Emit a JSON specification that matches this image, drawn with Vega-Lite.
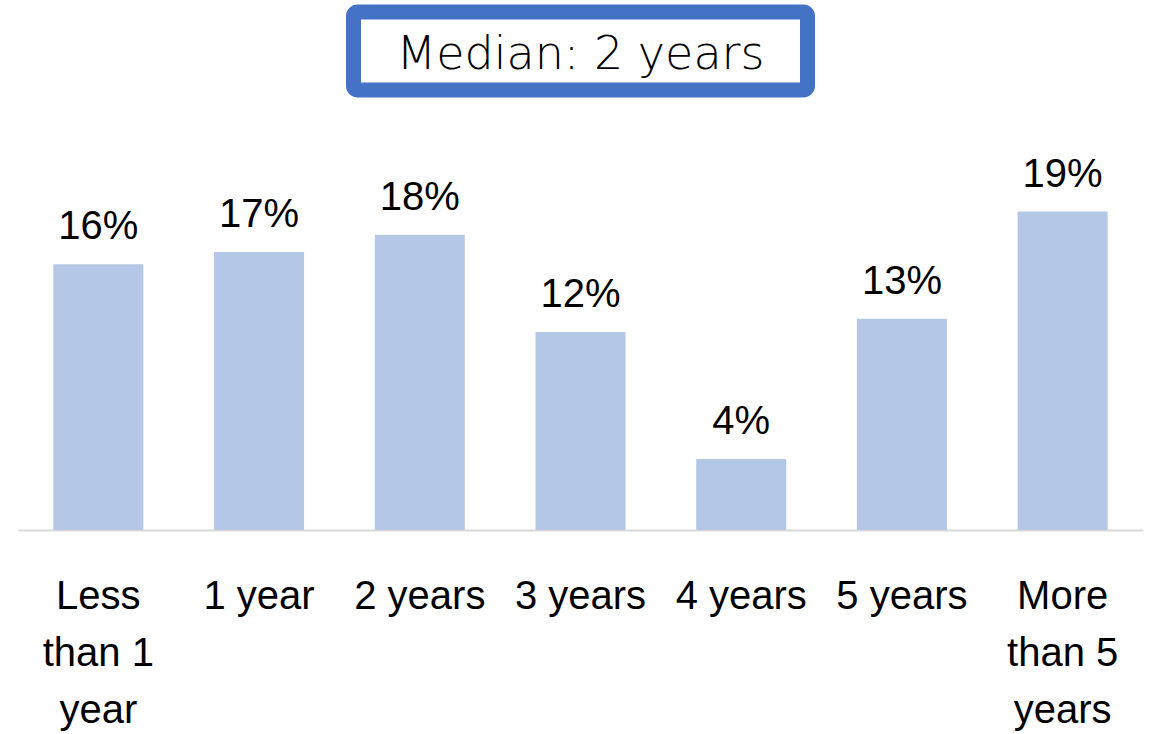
{
  "$schema": "https://vega.github.io/schema/vega-lite/v6.json",
  "autosize": {"type": "none"},
  "padding": {"left": 18, "top": 0, "right": 12, "bottom": 204},
  "width": 1125,
  "height": 530,
  "background": "white",
  "config": {"view": {"stroke": null}},
  "datasets": {
    "bars": [
      {"category": "Less than 1 year", "pct": 16.1, "label": "16%"},
      {"category": "1 year", "pct": 16.85, "label": "17%"},
      {"category": "2 years", "pct": 17.9, "label": "18%"},
      {"category": "3 years", "pct": 12.0, "label": "12%"},
      {"category": "4 years", "pct": 4.3, "label": "4%"},
      {"category": "5 years", "pct": 12.8, "label": "13%"},
      {"category": "More than 5 years", "pct": 19.3, "label": "19%"}
    ],
    "box": [
      {"top": 31.39, "bottom": 26.67, "mid": 28.8, "cat": "3 years", "text": "Median: 2 years"}
    ]
  },
  "layer": [
    {
      "data": {"name": "bars"},
      "mark": {"type": "bar", "color": "#b4c7e7"},
      "encoding": {
        "x": {
          "field": "category", "type": "nominal",
          "scale": {"domain": ["Less than 1 year", "1 year", "2 years", "3 years", "4 years", "5 years", "More than 5 years"], "paddingInner": 0.44, "paddingOuter": 0.22},
          "axis": {
            "title": null,
            "ticks": false,
            "domainColor": "#d9d9d9",
            "domainWidth": 2,
            "labelAngle": 0,
            "labelFont": "Liberation Sans",
            "labelFontSize": 40,
            "labelColor": "black",
            "labelPadding": 46,
            "labelBaseline": "top",
            "labelLineHeight": 57,
            "labelExpr": "datum.value == 'Less than 1 year' ? ['Less', 'than 1', 'year'] : datum.value == 'More than 5 years' ? ['More', 'than 5', 'years'] : datum.value"
          }
        },
        "y": {
          "field": "pct", "type": "quantitative",
          "scale": {"domain": [0, 32.12], "nice": false},
          "axis": null
        }
      }
    },
    {
      "data": {"name": "bars"},
      "mark": {"type": "text", "font": "Liberation Sans", "fontSize": 40, "color": "black", "baseline": "alphabetic", "dy": -25},
      "encoding": {
        "x": {"field": "category", "type": "nominal"},
        "y": {"field": "pct", "type": "quantitative"},
        "text": {"field": "label"}
      }
    },
    {
      "data": {"name": "box"},
      "mark": {"type": "bar", "width": 454, "fill": "white", "stroke": "#4472c4", "strokeWidth": 15, "cornerRadius": 4},
      "encoding": {
        "x": {"field": "cat", "type": "nominal"},
        "y": {"field": "top", "type": "quantitative"},
        "y2": {"field": "bottom"}
      }
    },
    {
      "data": {"name": "box"},
      "mark": {"type": "text", "font": "DejaVu Sans", "fontSize": 46, "fontWeight": 200, "color": "black", "baseline": "middle"},
      "encoding": {
        "x": {"field": "cat", "type": "nominal"},
        "y": {"field": "mid", "type": "quantitative"},
        "text": {"field": "text"}
      }
    }
  ]
}
